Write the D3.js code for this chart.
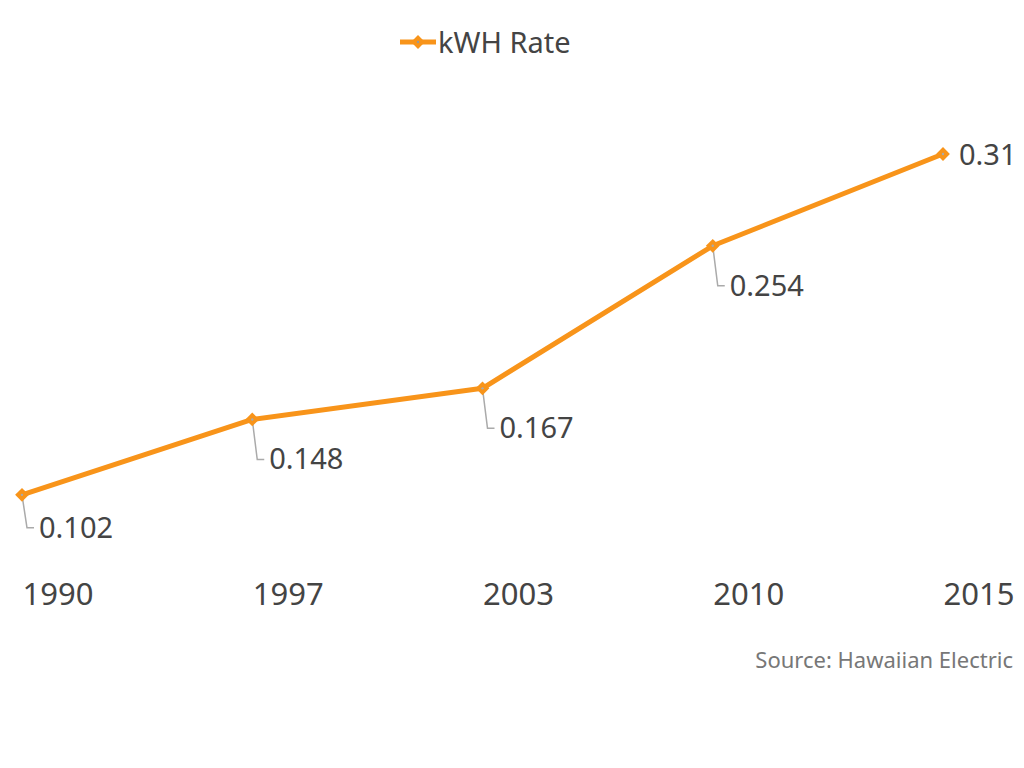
<!DOCTYPE html>
<html><head><meta charset="utf-8">
<script src="https://cdn.jsdelivr.net/npm/d3@7"></script>
<style>body{margin:0;background:#fff;}svg{display:block;}</style>
</head><body>
<script>
const years = ["1990","1997","2003","2010","2015"];
const rates = [0.102, 0.148, 0.167, 0.254, 0.31];
const seriesName = "kWH Rate";
const sourceText = "Source: Hawaiian Electric";

const W = 1024, H = 768;
const color = "#f8941a", textColor = "#444", font = "'Noto Sans', sans-serif";
const svg = d3.select("body").append("svg").attr("width", W).attr("height", H);

const x = d3.scalePoint().domain(years).range([22, 943]);
const y = d3.scaleLinear().domain([0, 0.31]).range([662, 154]);
const data = years.map((yr, i) => ({yr, v: rates[i]}));

// axis labels (years), left-aligned at the point
const xAxis = d3.axisBottom(x).tickSize(0).tickPadding(0);
const ax = svg.append("g").attr("transform", "translate(0,605)").call(xAxis);
ax.select(".domain").remove();
ax.selectAll("text").attr("text-anchor", "start").attr("dy", 0).attr("y", 0)
  .attr("font-family", font).attr("font-size", 31).attr("fill", textColor);

// line
svg.append("path").datum(data)
  .attr("d", d3.line().x(d => x(d.yr)).y(d => y(d.v)))
  .attr("fill", "none").attr("stroke", color).attr("stroke-width", 5)
  .attr("stroke-linejoin", "round");

// leader lines + labels
data.forEach((d, i) => {
  const px = x(d.yr), py = y(d.v);
  if (i < data.length - 1) {
    const ly = i === 0 ? 33 : 40;
    svg.append("path")
      .attr("d", `M${px},${py} L${px + 5},${py + ly} H${px + 12}`)
      .attr("fill", "none").attr("stroke", "#aaa").attr("stroke-width", 1.5);
    svg.append("text").attr("x", px + 17).attr("y", py + ly + 10).text(d.v)
      .attr("font-family", font).attr("font-size", 29).attr("fill", textColor);
  } else {
    svg.append("text").attr("x", px + 16).attr("y", py + 11).text(d.v)
      .attr("font-family", font).attr("font-size", 29).attr("fill", textColor);
  }
});

// markers
svg.selectAll(".m").data(data).join("path")
  .attr("transform", d => `translate(${x(d.yr)},${y(d.v)}) rotate(45)`)
  .attr("d", d3.symbol().type(d3.symbolSquare).size(95))
  .attr("fill", color);
svg.selectAll(".c").data(data).join("circle")
  .attr("cx", d => x(d.yr)).attr("cy", d => y(d.v)).attr("r", 1.2).attr("fill", "#aaa");

// legend
const lg = svg.append("g").attr("transform", "translate(400,42)");
lg.append("line").attr("x1", 0).attr("x2", 36).attr("stroke", color).attr("stroke-width", 5);
lg.append("path").attr("transform", "translate(18,0) rotate(45)")
  .attr("d", d3.symbol().type(d3.symbolSquare).size(95)).attr("fill", color);
lg.append("circle").attr("cx", 18).attr("r", 1.2).attr("fill", "#999");
lg.append("text").attr("x", 38).attr("y", 11).text(seriesName)
  .attr("font-family", font).attr("font-size", 29).attr("fill", textColor);

// source
svg.append("text").attr("x", 1013).attr("y", 668).attr("text-anchor", "end").text(sourceText)
  .attr("font-family", font).attr("font-size", 22).attr("fill", "#777");
</script>
</body></html>
